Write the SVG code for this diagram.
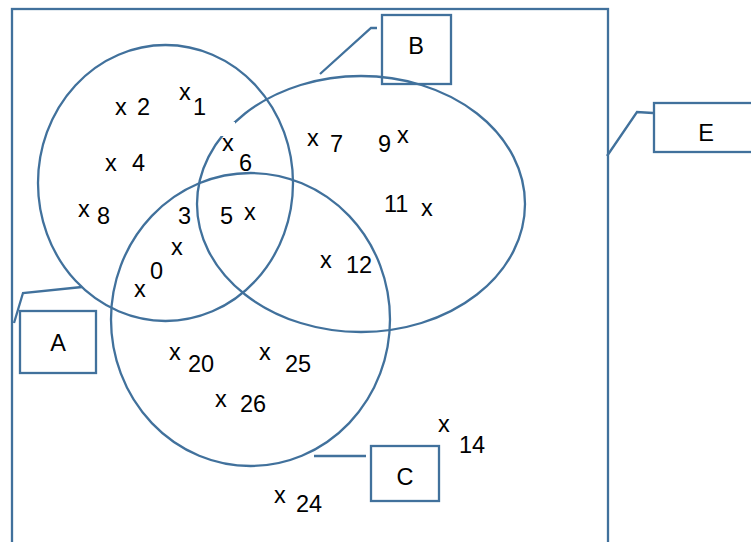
<svg xmlns="http://www.w3.org/2000/svg" width="751" height="542" viewBox="0 0 751 542">
<style>
.s{fill:none;stroke:#41719C;stroke-width:2.3}
.b{fill:none;stroke:#41719C;stroke-width:2.3}
text{font-family:"Liberation Sans",Arial,sans-serif;font-size:23.5px;fill:#000}
.c{text-anchor:middle}
</style>
<rect width="751" height="542" fill="#fff"/>
<g id="E-set">
<rect class="s" x="12" y="9" width="596" height="560"/>
</g>
<g id="circles">
<ellipse id="A-circle" class="s" cx="165.5" cy="183" rx="127.5" ry="138"/>
<ellipse id="B-circle" class="s" cx="361" cy="204" rx="164" ry="128"/>
<ellipse id="C-circle" class="s" cx="250.5" cy="319.5" rx="139.5" ry="146.5"/>
<rect x="219" y="122" width="16" height="14" fill="#fff"/>
</g>
<g id="connectors">
<polyline class="s" points="82,287 23,293 14,323"/>
<polyline class="s" points="320,74 371,28 377,28"/>
<polyline class="s" points="607,156 637,112 653,113"/>
<polyline class="s" points="314,456 366,456"/>
</g>
<g id="A">
<rect class="b" x="20" y="311" width="76" height="62"/>
<text class="c" x="58" y="351">A</text>
</g>
<g id="B">
<rect class="b" x="382" y="15" width="69" height="69"/>
<text class="c" x="416" y="54">B</text>
</g>
<g id="C">
<rect class="b" x="371" y="446" width="68" height="55"/>
<text class="c" x="405" y="485">C</text>
</g>
<g id="E">
<rect class="b" x="654" y="103" width="110" height="49"/>
<text class="c" x="706" y="141">E</text>
</g>
<g id="elements">
<text x="115" y="115">x</text><text x="137" y="115">2</text>
<text x="179" y="100">x</text><text x="193" y="115">1</text>
<text x="105" y="171">x</text><text x="132" y="171">4</text>
<text x="222" y="151">x</text><text x="239" y="171">6</text>
<text x="307" y="146">x</text><text x="330" y="152">7</text>
<text x="378" y="152">9</text><text x="397" y="143">x</text>
<text x="384" y="212">11</text><text x="421" y="216">x</text>
<text x="78" y="217">x</text><text x="97" y="224">8</text>
<text x="178" y="224">3</text>
<text x="220" y="224">5</text><text x="244" y="220">x</text>
<text x="171" y="255">x</text>
<text x="150" y="279">0</text>
<text x="134" y="297">x</text>
<text x="320" y="268">x</text><text x="346" y="273">12</text>
<text x="169" y="360">x</text><text x="188" y="372">20</text>
<text x="259" y="360">x</text><text x="285" y="372">25</text>
<text x="215" y="407">x</text><text x="240" y="412">26</text>
<text x="438" y="432">x</text><text x="459" y="453">14</text>
<text x="274" y="503">x</text><text x="296" y="512">24</text>
</g>
</svg>
